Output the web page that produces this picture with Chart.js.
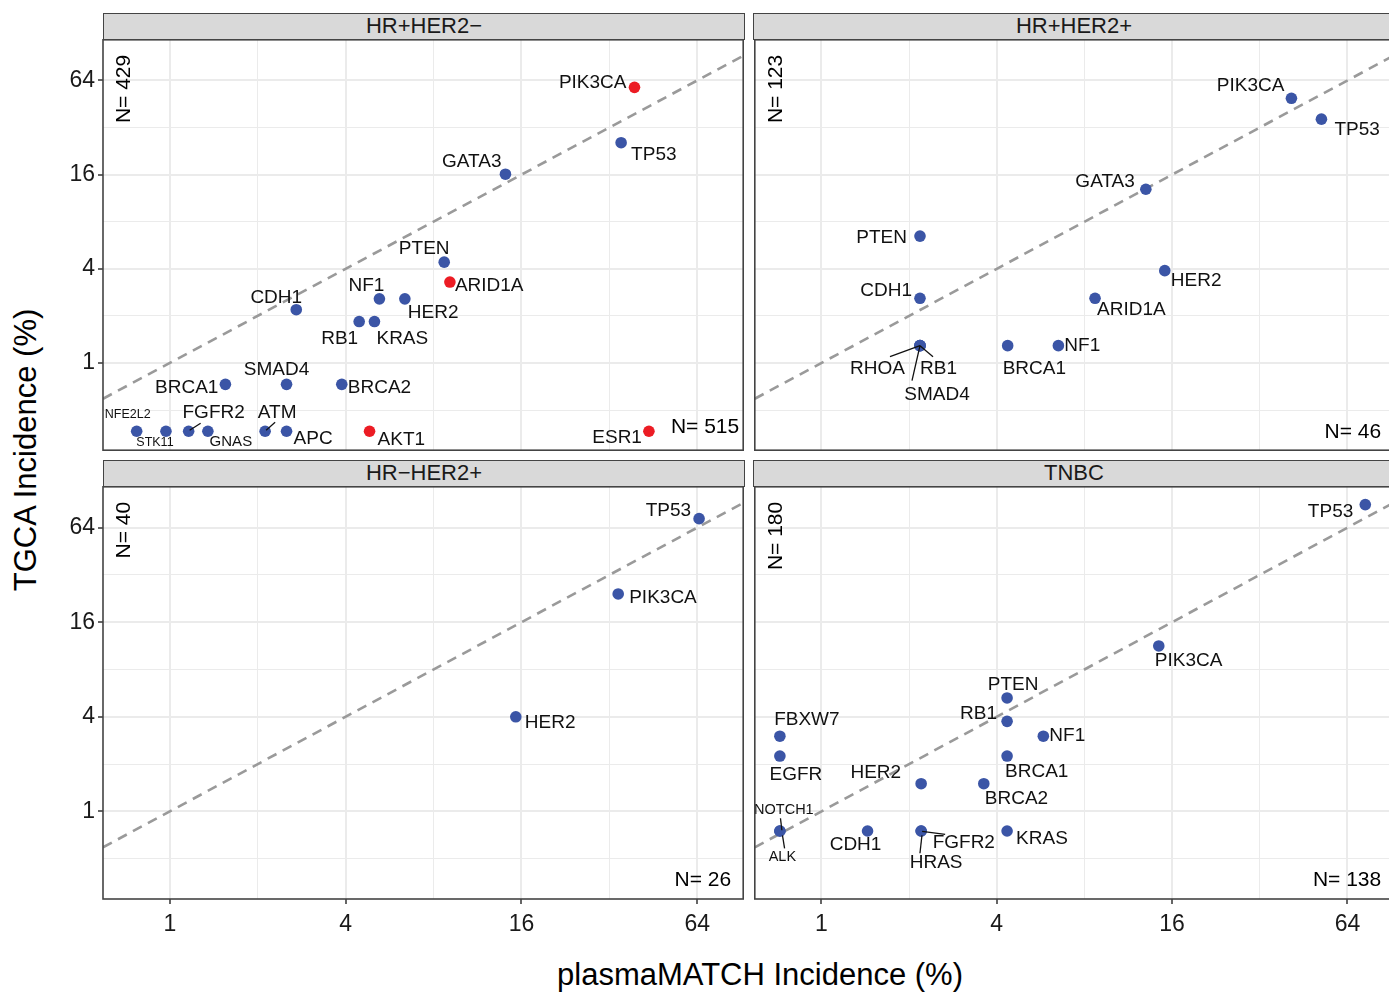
<!DOCTYPE html>
<html lang="en">
<head>
<meta charset="UTF-8">
<title>plasmaMATCH vs TCGA incidence</title>
<script src="https://cdn.jsdelivr.net/npm/chart.js@4"></script>
<style>
  html, body { margin: 0; padding: 0; background: #fff; overflow: hidden; }
  body { width: 1389px; height: 992px; position: relative; font-family: "Liberation Sans", Arial, sans-serif; }
  canvas { position: absolute; }
  .strip {
    position: absolute; box-sizing: border-box; height: 26.5px;
    background: #d9d9d9; border: 1.5px solid #444;
    color: #1a1a1a; font-size: 22px; line-height: 23px; text-align: center;
  }
  .title { position: absolute; color: #000; font-size: 31px; white-space: nowrap; }
</style>
</head>
<body>
<div class="title" style="left:26px; top:450px; transform:translate(-50%,-50%) rotate(-90deg);">TGCA Incidence (%)</div>
<div class="title" style="left:760px; top:975px; transform:translate(-50%,-50%);">plasmaMATCH Incidence (%)</div>
<script>
// facets
const panelNames = ['HR+HER2\u2212', 'HR+HER2+', 'HR\u2212HER2+', 'TNBC'];
const nTcga = [429, 123, 40, 180];
const nPlasma = [515, 46, 26, 138];

// HR+HER2-
const genesHRposHER2neg = ['PIK3CA','TP53','GATA3','PTEN','ARID1A','NF1','HER2','CDH1','RB1','KRAS','BRCA1','SMAD4','BRCA2','NFE2L2','STK11','FGFR2','GNAS','ATM','APC','AKT1','ESR1'];
const plasmaHRposHER2neg = [39.0, 35.1, 14.1, 8.7, 9.1, 5.22, 6.38, 2.71, 4.45, 5.02, 1.55, 2.51, 3.88, 0.77, 0.97, 1.16, 1.35, 2.12, 2.51, 4.83, 43.7];
const tcgaHRposHER2neg = [57.8, 25.6, 16.1, 4.41, 3.29, 2.57, 2.57, 2.19, 1.84, 1.84, 0.73, 0.73, 0.73, 0.366, 0.366, 0.366, 0.366, 0.366, 0.366, 0.366, 0.366];
const highlighted = ['PIK3CA', 'ARID1A', 'AKT1', 'ESR1'];

// HR+HER2+
const genesHRposHER2pos = ['PIK3CA','TP53','GATA3','PTEN','HER2','CDH1','ARID1A','RHOA','RB1','SMAD4','BRCA1','NF1'];
const plasmaHRposHER2pos = [41.1, 52.1, 13.0, 2.18, 15.1, 2.18, 8.7, 2.18, 2.18, 2.18, 4.36, 6.51];
const tcgaHRposHER2pos = [49.2, 36.2, 12.9, 6.47, 3.89, 2.59, 2.59, 1.29, 1.29, 1.29, 1.29, 1.29];

// HR-HER2+
const genesHRnegHER2pos = ['TP53','PIK3CA','HER2'];
const plasmaHRnegHER2pos = [64.9, 34.3, 15.3];
const tcgaHRnegHER2pos = [73.0, 24.2, 4.0];

// TNBC
const genesTNBC = ['TP53','PIK3CA','PTEN','RB1','NF1','BRCA1','FBXW7','EGFR','HER2','BRCA2','NOTCH1','ALK','CDH1','FGFR2','HRAS','KRAS'];
const plasmaTNBC = [73.7, 14.4, 4.34, 4.34, 5.78, 4.34, 0.72, 0.72, 2.20, 3.61, 0.72, 0.72, 1.44, 2.20, 2.20, 4.34];
const tcgaTNBC = [89.7, 11.3, 5.27, 3.74, 3.01, 2.25, 3.01, 2.25, 1.50, 1.50, 0.75, 0.75, 0.75, 0.75, 0.75, 0.75];

const xTicks = [0.5, 1, 2, 4, 8, 16, 32, 64];
const yTicks = [0.5, 1, 2, 4, 8, 16, 32, 64];
const tickLabels = [1, 4, 16, 64];

// label placement (align, dx, dy, font size) relative to the point, like ggrepel left them
const labelPos = [
  { PIK3CA:['right',-8,-5], TP53:['left',10,12], GATA3:['right',-4,-12], PTEN:['center',-20,-13],
    ARID1A:['left',5,4], NF1:['center',-13,-13], HER2:['left',3,14], CDH1:['center',-20,-12],
    RB1:['right',-1,17], KRAS:['left',2,17], BRCA1:['right',-7,3], SMAD4:['center',-10,-15],
    BRCA2:['left',6,3], NFE2L2:['center',-9,-17,12.5], STK11:['center',-11,11,12.5],
    FGFR2:['center',25,-18], GNAS:['center',23,11,15], ATM:['center',12,-18],
    APC:['left',7,8], AKT1:['left',8,9], ESR1:['right',-7,7] },
  { PIK3CA:['right',-7,-13], TP53:['left',13,11], GATA3:['right',-11,-7], PTEN:['right',-13,2],
    HER2:['left',6,10], CDH1:['right',-8,-8], ARID1A:['left',2,11], NF1:['left',6,0],
    BRCA1:['left',-5,23], RHOA:['right',-15,23], RB1:['left',0,23], SMAD4:['center',17,49] },
  { TP53:['right',-8,-8], PIK3CA:['left',11,4], HER2:['left',9,6] },
  { TP53:['right',-12,7], PIK3CA:['left',-4,15], PTEN:['center',6,-13], RB1:['right',-10,-8],
    NF1:['left',6,0], BRCA1:['left',-2,16], FBXW7:['center',27,-16], EGFR:['center',16,19],
    HER2:['right',-20,-11], BRCA2:['left',1,15], NOTCH1:['center',4,-21,14.5], ALK:['center',2.5,26,14.5],
    CDH1:['center',-12,14], FGFR2:['left',11.5,12], HRAS:['center',15,32], KRAS:['left',9,8] }
];
const leaders = [
  [['FGFR2',1,-1,12,-8], ['ATM',1,-1,10,-9]],
  [['RHOA',0,0,-30,11], ['RB1',0,0,13,11], ['SMAD4',0,0,-8,35]],
  [],
  [['NOTCH1',0.6,-12.7,2,-0.7], ['ALK',2.6,4.3,4.7,17.3], ['FGFR2',1,0.3,24,3.3], ['HRAS',0.8,4.3,-1.2,22.3]]
];
// corner annotation offsets: [dx from right, dy from bottom]
const cornerPos = [[-4, -23], [-12, -18], [-12, -19], [-12, -19]];

const blue = '#3b55a6', red = '#ec1c24';
const font = '"Liberation Sans", Arial, sans-serif';
const plotW = 642, plotH = 414, yAxisW = 45, xAxisH = 45, pad = 4;
const plotLeft = [103, 753], plotTop = [38, 485];
const xRange = [Math.pow(2, -0.76), Math.pow(2, 6.522)];
const yRange = [Math.pow(2, -1.853), Math.pow(2, 6.863)];

const panels = [
  [genesHRposHER2neg, plasmaHRposHER2neg, tcgaHRposHER2neg],
  [genesHRposHER2pos, plasmaHRposHER2pos, tcgaHRposHER2pos],
  [genesHRnegHER2pos, plasmaHRnegHER2pos, tcgaHRnegHER2pos],
  [genesTNBC, plasmaTNBC, tcgaTNBC]
];

const isMajor = v => tickLabels.includes(v);

function axisOpts(axis, labelled, ticks, range) {
  return {
    type: 'logarithmic', min: range[0], max: range[1], bounds: 'data',
    afterBuildTicks: s => {
      s.ticks = ticks.filter(v => v >= range[0] && v <= range[1]).map(v => ({ value: v }));
    },
    afterFit: s => {
      if (axis === 'x') s.height = labelled ? xAxisH : 0;
      else s.width = labelled ? yAxisW : 0;
      s.paddingTop = s.paddingBottom = s.paddingLeft = s.paddingRight = 0;
    },
    border: { display: false },
    grid: {
      color: '#ebebeb',
      lineWidth: c => (c.tick && isMajor(c.tick.value)) ? 2 : 1,
      drawTicks: labelled, tickLength: 5, tickWidth: 1.5,
      tickColor: c => (c.tick && isMajor(c.tick.value)) ? '#333' : 'rgba(0,0,0,0)'
    },
    ticks: {
      display: labelled, autoSkip: false, maxRotation: 0,
      padding: axis === 'x' ? 7 : 3, color: '#1a1a1a',
      font: { family: font, size: 23 },
      callback: v => isMajor(v) ? String(v) : ''
    }
  };
}

function labelPlugin(k) {
  const [genes, plasma, tcga] = panels[k];
  return {
    id: 'geneLabels' + k,
    afterDatasetsDraw(chart) {
      const { ctx, chartArea: a, scales: { x, y } } = chart;
      const px = i => x.getPixelForValue(plasma[i]);
      const py = i => y.getPixelForValue(tcga[i]);
      ctx.save();
      ctx.strokeStyle = '#111';
      ctx.lineWidth = 1.3;
      leaders[k].forEach(([g, x1, y1, x2, y2]) => {
        const i = genes.indexOf(g);
        ctx.beginPath();
        ctx.moveTo(px(i) + x1, py(i) + y1);
        ctx.lineTo(px(i) + x2, py(i) + y2);
        ctx.stroke();
      });
      ctx.fillStyle = '#111';
      ctx.textBaseline = 'middle';
      genes.forEach((g, i) => {
        const l = labelPos[k][g];
        if (!l) return;
        ctx.font = (l[3] || 19) + 'px ' + font;
        ctx.textAlign = l[0];
        ctx.fillText(g, px(i) + l[1], py(i) + l[2]);
      });
      // sample sizes
      ctx.fillStyle = '#000';
      ctx.font = '21px ' + font;
      ctx.textAlign = 'right';
      ctx.fillText('N= ' + nPlasma[k], a.right + cornerPos[k][0], a.bottom + cornerPos[k][1]);
      ctx.translate(a.left + 21, a.top + 15);
      ctx.rotate(-Math.PI / 2);
      ctx.fillText('N= ' + nTcga[k], 0, 0);
      ctx.restore();
    },
    afterDraw(chart) {
      const { ctx, chartArea: a } = chart;
      ctx.save();
      ctx.strokeStyle = '#444';
      ctx.lineWidth = 1.6;
      ctx.strokeRect(a.left, a.top, a.right - a.left, a.bottom - a.top);
      ctx.restore();
    }
  };
}

panels.forEach(([genes, plasma, tcga], k) => {
  const col = k % 2, row = Math.floor(k / 2);
  const yw = col === 0 ? yAxisW : 0, xh = row === 1 ? xAxisH : 0;
  const cv = document.createElement('canvas');
  cv.width = yw + plotW + 2 * pad;
  cv.height = plotH + xh + 2 * pad;
  cv.style.left = (plotLeft[col] - yw - pad) + 'px';
  cv.style.top = (plotTop[row] - pad) + 'px';
  document.body.appendChild(cv);

  const strip = document.createElement('div');
  strip.className = 'strip';
  strip.style.left = plotLeft[col] + 'px';
  strip.style.top = (plotTop[row] - 25) + 'px';
  strip.style.width = plotW + 'px';
  strip.textContent = panelNames[k];
  document.body.appendChild(strip);

  new Chart(cv, {
    type: 'scatter',
    data: {
      datasets: [
        {
          type: 'line',
          data: [{ x: xRange[0], y: xRange[0] }, { x: xRange[1], y: xRange[1] }],
          borderColor: '#9a9a9a', borderWidth: 2.6, borderDash: [10, 7],
          pointRadius: 0, fill: false, order: 2
        },
        {
          data: genes.map((g, i) => ({ x: plasma[i], y: tcga[i] })),
          pointRadius: 5.8, pointBorderWidth: 0,
          pointBackgroundColor: genes.map(g => (k === 0 && highlighted.includes(g)) ? red : blue),
          order: 1
        }
      ]
    },
    options: {
      responsive: false, animation: false,
      layout: { padding: pad },
      plugins: { legend: { display: false }, tooltip: { enabled: false } },
      scales: {
        x: axisOpts('x', row === 1, xTicks, xRange),
        y: axisOpts('y', col === 0, yTicks, yRange)
      }
    },
    plugins: [labelPlugin(k)]
  });
});
</script>
</body>
</html>
